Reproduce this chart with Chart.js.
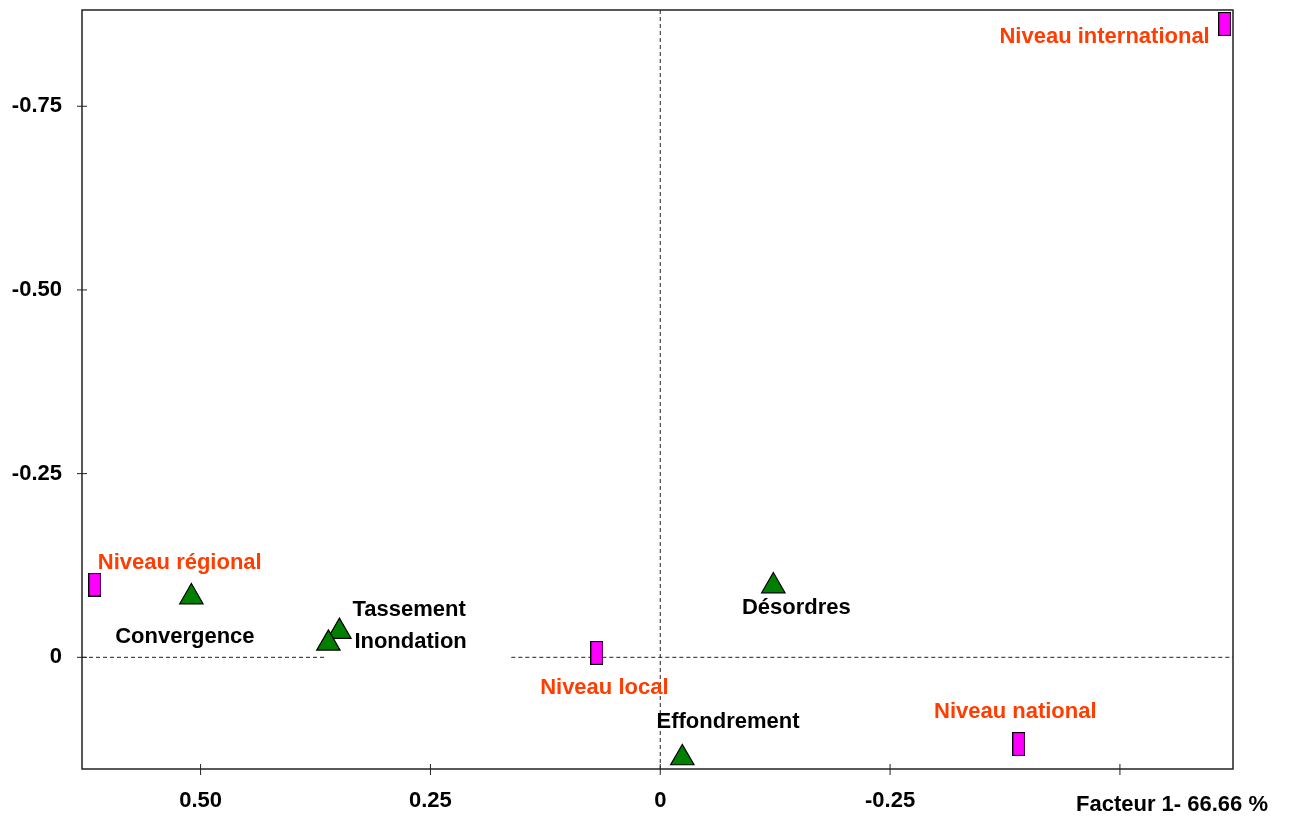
<!DOCTYPE html>
<html><head><meta charset="utf-8">
<script src="https://cdn.jsdelivr.net/npm/chart.js@4/dist/chart.umd.min.js"></script>
<style>html,body{margin:0;padding:0;background:#fff}#wrap{width:1291px;height:816px}</style>
</head><body><div id="wrap"><canvas id="c" width="1291" height="816"></canvas></div>
<script>
// ---- data ----
const levelNames = ['Niveau international', 'Niveau régional', 'Niveau local', 'Niveau national'];
const levelX = [-0.614, 0.615, 0.069, -0.390];
const levelY = [-0.862, -0.099, -0.006, 0.118];
const themeNames = ['Convergence', 'Tassement', 'Inondation', 'Désordres', 'Effondrement'];
const themeX = [0.510, 0.349, 0.361, -0.123, -0.024];
const themeY = [-0.082, -0.035, -0.019, -0.097, 0.137];
const xTicks = [0.5, 0.25, 0, -0.25, -0.5];
const xTickLabels = ['0.50', '0.25', '0', '-0.25', ''];
const yTicks = [-0.75, -0.5, -0.25, 0];
const yTickLabels = ['-0.75', '-0.50', '-0.25', '0'];
const xTitle = 'Facteur 1- 66.66 %';
const zeroLineGap = [0.363, 0.162];

// ---- styles ----
const FONT = "'Liberation Sans', Arial, Helvetica, sans-serif";
const LEVEL_COLOR = '#FF3D00';
const levelLabelPos = [['right', -15, 13], ['left', 3, -22], ['center', 7.5, 35], ['center', -3.5, -32]];
const themeLabelPos = [['center', -6.5, 40], ['left', 13, -22], ['left', 26, -1], ['center', 23, 22], ['center', 45.7, -36]];

function rectMarker() {
  const c = document.createElement('canvas');
  c.width = 13; c.height = 24;
  const g = c.getContext('2d');
  g.fillStyle = '#FF00FF';
  g.fillRect(0.5, 0.5, 12, 23);
  g.strokeStyle = '#000';
  g.lineWidth = 1.2;
  g.strokeRect(0.5, 0.5, 12, 23);
  return c;
}

const decor = {
  id: 'decor',
  beforeDatasetsDraw(chart) {
    const {ctx, chartArea: a, scales: {x, y}} = chart;
    ctx.save();
    ctx.strokeStyle = '#222';
    ctx.lineWidth = 1;
    ctx.setLineDash([4, 3]);
    const x0 = x.getPixelForValue(0), y0 = y.getPixelForValue(0);
    ctx.beginPath();
    ctx.moveTo(x0, a.top); ctx.lineTo(x0, a.bottom);
    ctx.moveTo(a.left, y0); ctx.lineTo(x.getPixelForValue(zeroLineGap[0]), y0);
    ctx.moveTo(x.getPixelForValue(zeroLineGap[1]), y0); ctx.lineTo(a.right, y0);
    ctx.stroke();
    ctx.restore();
  },
  afterDatasetsDraw(chart) {
    const {ctx, chartArea: a, scales: {x, y}} = chart;
    ctx.save();
    ctx.strokeStyle = '#222';
    ctx.lineWidth = 1.5;
    ctx.strokeRect(a.left, a.top, a.right - a.left, a.bottom - a.top);
    ctx.lineWidth = 1;
    ctx.beginPath();
    xTicks.forEach(v => { const px = x.getPixelForValue(v); ctx.moveTo(px, a.bottom - 5); ctx.lineTo(px, a.bottom + 6); });
    yTicks.forEach(v => { const py = y.getPixelForValue(v); ctx.moveTo(a.left - 5, py); ctx.lineTo(a.left + 5, py); });
    ctx.stroke();
    ctx.font = 'bold 22px ' + FONT;
    ctx.textBaseline = 'middle';
    ctx.fillStyle = LEVEL_COLOR;
    levelNames.forEach((n, i) => {
      const p = levelLabelPos[i];
      ctx.textAlign = p[0];
      ctx.fillText(n, x.getPixelForValue(levelX[i]) + p[1], y.getPixelForValue(levelY[i]) + p[2]);
    });
    ctx.fillStyle = '#000';
    themeNames.forEach((n, i) => {
      const p = themeLabelPos[i];
      ctx.textAlign = p[0];
      ctx.fillText(n, x.getPixelForValue(themeX[i]) + p[1], y.getPixelForValue(themeY[i]) + p[2]);
    });
    ctx.textAlign = 'center';
    ctx.fillText(xTitle, a.right - 61, a.bottom + 36);
    ctx.restore();
  }
};

function noPad(s) { s.paddingTop = 0; s.paddingBottom = 0; s.paddingLeft = 0; s.paddingRight = 0; }

new Chart(document.getElementById('c'), {
  type: 'scatter',
  data: {
    datasets: [
      {
        label: 'Niveaux',
        data: levelX.map((v, i) => ({x: v, y: levelY[i]})),
        pointStyle: rectMarker(),
        pointRadius: 12,
        pointHoverRadius: 12
      },
      {
        label: 'Thèmes',
        data: themeX.map((v, i) => ({x: v, y: themeY[i]})),
        pointStyle: 'triangle',
        pointRadius: 13.5,
        pointHoverRadius: 13.5,
        backgroundColor: '#007F00',
        borderColor: '#000',
        borderWidth: 1.2
      }
    ]
  },
  options: {
    responsive: false,
    devicePixelRatio: 1,
    animation: false,
    layout: {autoPadding: false, padding: {left: 0, top: 10, right: 58, bottom: 0}},
    plugins: {legend: {display: false}, tooltip: {enabled: false}},
    scales: {
      x: {
        type: 'linear', position: 'bottom', reverse: true, min: -0.623, max: 0.629,
        afterBuildTicks: s => { s.ticks = xTicks.map(v => ({value: v})); },
        afterFit: s => { s.height = 47; noPad(s); },
        grid: {display: false, drawTicks: false},
        border: {display: false},
        ticks: {
          padding: 19, color: '#000', font: {family: FONT, size: 22, weight: 'bold'},
          maxRotation: 0, autoSkip: false,
          callback: v => xTickLabels[xTicks.indexOf(v)]
        }
      },
      y: {
        type: 'linear', reverse: true, min: -0.881, max: 0.152,
        afterBuildTicks: s => { s.ticks = yTicks.map(v => ({value: v})); },
        afterFit: s => { s.width = 82; noPad(s); },
        grid: {display: false, drawTicks: false},
        border: {display: false},
        ticks: {
          padding: 20, color: '#000', font: {family: FONT, size: 22, weight: 'bold'},
          autoSkip: false,
          callback: v => yTickLabels[yTicks.indexOf(v)]
        }
      }
    }
  },
  plugins: [decor]
});
</script>
</body></html>
